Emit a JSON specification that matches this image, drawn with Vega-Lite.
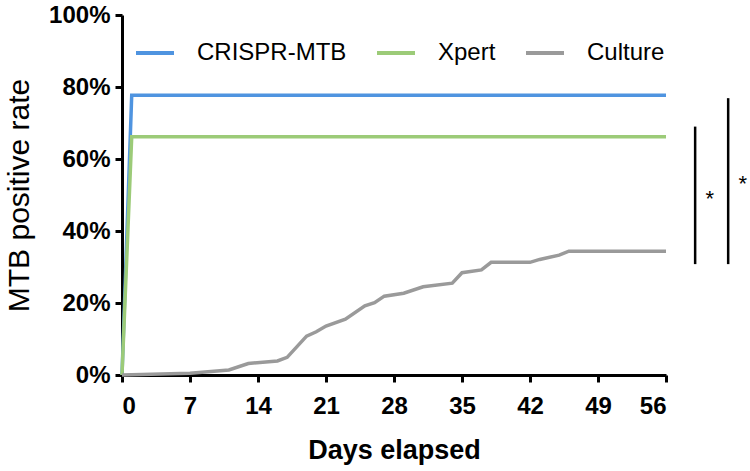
{
  "$schema": "https://vega.github.io/schema/vega-lite/v6.json",
  "autosize": "none",
  "width": 544,
  "height": 360,
  "padding": {"left": 122, "top": 15, "right": 84, "bottom": 96},
  "background": "white",
  "config": {
    "view": {"stroke": null},
    "font": "Liberation Sans",
    "axis": {
      "domainColor": "black", "domainWidth": 3, "tickColor": "black", "tickWidth": 3, "tickSize": 7,
      "labelFont": "Liberation Sans", "labelFontWeight": "bold", "labelFontSize": 24, "labelColor": "black",
      "titleFont": "Liberation Sans", "titleFontWeight": "bold", "titleFontSize": 27, "titleColor": "black",
      "grid": false
    },
    "legend": {
      "labelFont": "Liberation Sans", "labelFontSize": 24, "labelColor": "black"
    }
  },
  "datasets": {
    "curves": [
      {"series": "CRISPR-MTB", "day": 0, "rate": 0},
      {"series": "CRISPR-MTB", "day": 1, "rate": 0.777},
      {"series": "CRISPR-MTB", "day": 56, "rate": 0.777},
      {"series": "Xpert", "day": 0, "rate": 0},
      {"series": "Xpert", "day": 1, "rate": 0.662},
      {"series": "Xpert", "day": 56, "rate": 0.662},
      {"series": "Culture", "day": 0, "rate": 0},
      {"series": "Culture", "day": 7, "rate": 0.005},
      {"series": "Culture", "day": 11, "rate": 0.014},
      {"series": "Culture", "day": 13, "rate": 0.032},
      {"series": "Culture", "day": 16, "rate": 0.039},
      {"series": "Culture", "day": 17, "rate": 0.049},
      {"series": "Culture", "day": 19, "rate": 0.108},
      {"series": "Culture", "day": 20, "rate": 0.12},
      {"series": "Culture", "day": 21, "rate": 0.136},
      {"series": "Culture", "day": 23, "rate": 0.155},
      {"series": "Culture", "day": 25, "rate": 0.192},
      {"series": "Culture", "day": 26, "rate": 0.201},
      {"series": "Culture", "day": 27, "rate": 0.219},
      {"series": "Culture", "day": 29, "rate": 0.227},
      {"series": "Culture", "day": 31, "rate": 0.245},
      {"series": "Culture", "day": 34, "rate": 0.255},
      {"series": "Culture", "day": 35, "rate": 0.284},
      {"series": "Culture", "day": 37, "rate": 0.292},
      {"series": "Culture", "day": 38, "rate": 0.313},
      {"series": "Culture", "day": 42, "rate": 0.313},
      {"series": "Culture", "day": 43, "rate": 0.321},
      {"series": "Culture", "day": 45, "rate": 0.333},
      {"series": "Culture", "day": 46, "rate": 0.344},
      {"series": "Culture", "day": 56, "rate": 0.344}
    ],
    "brackets": [
      {"day": 59.0, "low": 0.308, "high": 0.69, "star_day": 60.5, "star_rate": 0.47},
      {"day": 62.4, "low": 0.308, "high": 0.769, "star_day": 63.9, "star_rate": 0.51}
    ]
  },
  "layer": [
    {
      "data": {"name": "curves"},
      "mark": {"type": "line", "strokeWidth": 3.5, "clip": false},
      "encoding": {
        "x": {"field": "day", "type": "quantitative",
              "scale": {"domain": [0, 56], "nice": false, "zero": false},
              "axis": {"values": [0, 7, 14, 21, 28, 35, 42, 49, 56], "title": "Days elapsed", "labelPadding": 12, "titlePadding": 19}},
        "y": {"field": "rate", "type": "quantitative",
              "scale": {"domain": [0, 1], "nice": false},
              "axis": {"values": [0, 0.2, 0.4, 0.6, 0.8, 1], "format": ".0%", "title": "MTB positive rate", "labelPadding": 5, "titlePadding": 14, "titleFontWeight": "normal", "titleFontSize": 30}},
        "color": {"field": "series", "type": "nominal",
                  "scale": {"domain": ["CRISPR-MTB", "Xpert", "Culture"], "range": ["#4f94e0", "#9ccb78", "#9a9a9a"]},
                  "legend": {"title": null, "orient": "none", "legendX": 12, "legendY": 17, "direction": "horizontal",
                             "symbolType": "stroke", "symbolSize": 1444, "symbolStrokeWidth": 4, "labelOffset": 21,
                             "columnPadding": 22, "padding": 0}},
        "order": {"value": 0}
      }
    },
    {
      "data": {"name": "brackets"},
      "mark": {"type": "rule", "color": "black", "strokeWidth": 2.5, "clip": false},
      "encoding": {
        "x": {"field": "day", "type": "quantitative"},
        "y": {"field": "low", "type": "quantitative"},
        "y2": {"field": "high"}
      }
    },
    {
      "data": {"name": "brackets"},
      "mark": {"type": "text", "text": "*", "fontSize": 22, "color": "black", "baseline": "alphabetic", "align": "center"},
      "encoding": {
        "x": {"field": "star_day", "type": "quantitative"},
        "y": {"field": "star_rate", "type": "quantitative"}
      }
    }
  ]
}
